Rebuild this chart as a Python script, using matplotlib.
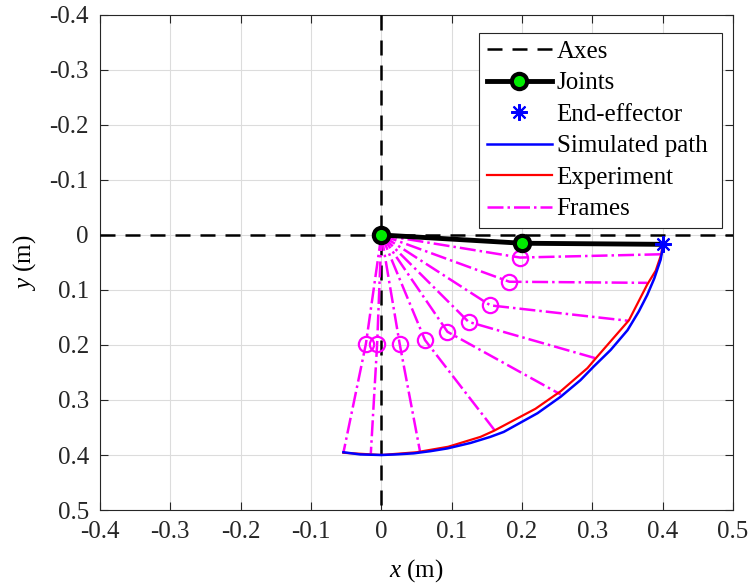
import numpy as np
import matplotlib
matplotlib.use("Agg")
import matplotlib.pyplot as plt

plt.rcParams['font.family'] = 'Liberation Serif'
plt.rcParams['mathtext.fontset'] = 'custom'
plt.rcParams['mathtext.rm'] = 'Liberation Serif'
plt.rcParams['mathtext.it'] = 'Liberation Serif:italic'
plt.rcParams['axes.unicode_minus'] = False

# arm joints (base, elbow, tip) and end-effector
joint_x = [0.0, 0.200, 0.400]
joint_y = [0.0, 0.015, 0.017]
ee_x = [0.400]
ee_y = [0.017]

# simulated end-effector path
sim_x = [0.401, 0.397, 0.388, 0.378, 0.366, 0.350, 0.326, 0.302, 0.283, 0.255,
         0.222, 0.174, 0.155, 0.127, 0.094, 0.070, 0.046, 0.020, 0.000, -0.030, -0.054]
sim_y = [0.017, 0.045, 0.079, 0.109, 0.139, 0.173, 0.209, 0.239, 0.264, 0.294,
         0.324, 0.358, 0.367, 0.378, 0.388, 0.393, 0.397, 0.399, 0.400, 0.399, 0.395]

# experimental path
exp_x = [0.400, 0.398, 0.390, 0.378, 0.352, 0.307, 0.293, 0.255, 0.219, 0.160,
         0.141, 0.095, 0.050, 0.000, -0.054]
exp_y = [0.017, 0.035, 0.065, 0.090, 0.155, 0.221, 0.242, 0.284, 0.316, 0.356,
         0.367, 0.385, 0.395, 0.400, 0.396]

# frames: elbow and tip for each snapshot (base at origin)
elbow_x = [0.200, 0.197, 0.182, 0.155, 0.124, 0.094, 0.062, 0.026, -0.006, -0.022]
elbow_y = [0.015, 0.041, 0.085, 0.128, 0.158, 0.176, 0.191, 0.198, 0.198, 0.198]
tip_x = [0.400, 0.400, 0.378, 0.351, 0.307, 0.255, 0.161, 0.055, -0.015, -0.054]
tip_y = [0.017, 0.035, 0.087, 0.156, 0.225, 0.290, 0.355, 0.394, 0.397, 0.396]

xticks = [-0.4, -0.3, -0.2, -0.1, 0, 0.1, 0.2, 0.3, 0.4, 0.5]
yticks = [-0.4, -0.3, -0.2, -0.1, 0, 0.1, 0.2, 0.3, 0.4, 0.5]
tick_labels = ['-0.4', '-0.3', '-0.2', '-0.1', '0', '0.1', '0.2', '0.3', '0.4', '0.5']

fig = plt.figure(figsize=(7.51, 5.85), dpi=100)
ax = fig.add_axes([0.1332, 0.1282, 0.8429, 0.8462])

h_axes, = ax.plot([-0.4, 0.5], [0, 0], 'k--', lw=1.8, dashes=(6, 4), zorder=3)
ax.plot([0, 0], [-0.4, 0.5], 'k--', lw=1.8, dashes=(6, 4), zorder=3)

for i in range(len(elbow_x)):
    ax.plot([0, elbow_x[i], tip_x[i]], [0, elbow_y[i], tip_y[i]],
            color='magenta', ls='-.', lw=1.8, marker='o', markevery=[1],
            ms=11, mfc='none', mec='magenta', mew=1.6, zorder=4)

h_exp, = ax.plot(exp_x, exp_y, color='red', lw=1.6, zorder=5)
h_sim, = ax.plot(sim_x, sim_y, color='blue', lw=1.8, zorder=6)

ax.plot(joint_x, joint_y, color='black', lw=3.5, marker='o', markevery=[0, 1],
        ms=11, mfc='#00ee00', mec='black', mew=3, zorder=7)
h_ee, = ax.plot(ee_x, ee_y, ls='none', marker=(8, 2, 0), ms=12, color='blue',
                mew=1.5, zorder=8)

ax.set_xlim(-0.4, 0.5)
ax.set_ylim(0.5, -0.4)
ax.set_xticks(xticks)
ax.set_xticklabels(tick_labels)
ax.set_yticks(yticks)
ax.set_yticklabels(tick_labels)
ax.tick_params(direction='in', length=6, width=0.8, top=True, right=True,
               labelsize=18, colors='#262626', pad=8)
for s in ax.spines.values():
    s.set_color('#262626')
    s.set_linewidth(0.8)
ax.grid(True, color='#dcdcdc', lw=0.8)
ax.set_axisbelow(True)

ax.set_xlabel('$x$ (m)', fontsize=18, labelpad=10)
ax.set_ylabel('$y$ (m)', fontsize=18, labelpad=8)

# legend proxies
h_jl, = ax.plot([], [], color='black', lw=3.5, marker='o', ms=11,
                mfc='#00ee00', mec='black', mew=3)
h_frl, = ax.plot([], [], color='magenta', ls='-.', lw=1.8)
leg = ax.legend([h_axes, h_jl, h_ee, h_sim, h_exp, h_frl],
                ['Axes', 'Joints', 'End-effector', 'Simulated path', 'Experiment', 'Frames'],
                loc='upper left', bbox_to_anchor=(0.599, 0.0, 0.384, 0.9636), mode='expand',
                fontsize=18, frameon=True, fancybox=False, edgecolor='#262626', framealpha=1,
                handlelength=2.6, handletextpad=0.2, labelspacing=0.36,
                borderpad=0.3, borderaxespad=0)
leg.get_frame().set_linewidth(0.8)
leg.set_zorder(10)

fig.savefig('out.png', dpi=100)
